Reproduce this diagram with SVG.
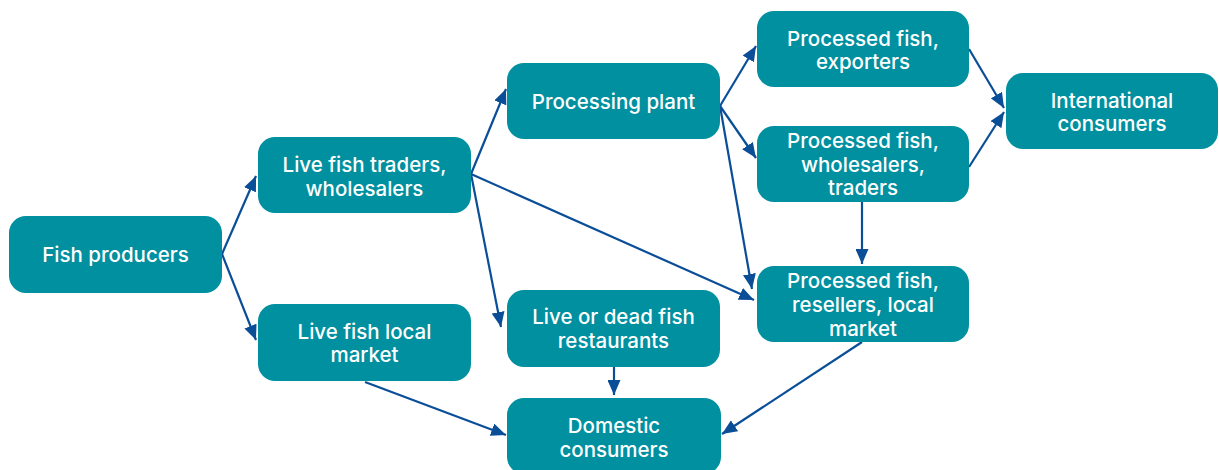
<svg xmlns="http://www.w3.org/2000/svg" width="1219" height="470" viewBox="0 0 1219 470">
<style>
.box{fill:#00909F;}
.lbl{fill:#FFFFFF;font-family:Inter,"Noto Sans","Liberation Sans",sans-serif;font-size:20.5px;font-weight:500;text-anchor:middle;}
.con{stroke:#0A4E98;stroke-width:2.2;fill:none;marker-end:url(#ah);}
</style>
<defs>
<marker id="ah" markerUnits="userSpaceOnUse" markerWidth="15" markerHeight="13" refX="15" refY="6.5" orient="auto">
<path d="M0,0 L15,6.5 L0,13 z" fill="#0A4E98"/>
</marker>
</defs>
<rect width="1219" height="470" fill="#FFFFFF"/>
<g id="connectors">
<line class="con" x1="222" y1="254" x2="256" y2="176"/>
<line class="con" x1="222" y1="254" x2="256" y2="340"/>
<line class="con" x1="471" y1="174" x2="506" y2="89"/>
<line class="con" x1="471" y1="174" x2="501" y2="327"/>
<line class="con" x1="471" y1="174" x2="754" y2="300"/>
<line class="con" x1="720" y1="106" x2="756" y2="46"/>
<line class="con" x1="720" y1="106" x2="756" y2="158"/>
<line class="con" x1="720" y1="106" x2="752" y2="289"/>
<line class="con" x1="862" y1="202" x2="862" y2="264"/>
<line class="con" x1="969" y1="49" x2="1004" y2="108"/>
<line class="con" x1="969" y1="167" x2="1004" y2="112"/>
<line class="con" x1="614" y1="367" x2="614" y2="395"/>
<line class="con" x1="365" y1="382" x2="506" y2="435"/>
<line class="con" x1="862" y1="342" x2="722" y2="434"/>
</g>
<g id="fish-producers">
<rect class="box" x="9" y="216" width="213" height="77" rx="17"/>
<text class="lbl" x="115.5" y="262">Fish producers</text>
</g>
<g id="live-fish-traders">
<rect class="box" x="258" y="137" width="213" height="76" rx="17"/>
<text class="lbl" x="364.5" y="172">Live fish traders,</text>
<text class="lbl" x="364.5" y="196">wholesalers</text>
</g>
<g id="live-fish-local-market">
<rect class="box" x="258" y="304" width="213" height="77" rx="17"/>
<text class="lbl" x="364.5" y="339">Live fish local</text>
<text class="lbl" x="364.5" y="362">market</text>
</g>
<g id="processing-plant">
<rect class="box" x="507" y="63" width="213" height="76" rx="17"/>
<text class="lbl" x="613.5" y="109">Processing plant</text>
</g>
<g id="live-or-dead-fish-restaurants">
<rect class="box" x="507" y="290" width="213" height="77" rx="17"/>
<text class="lbl" x="613.5" y="324">Live or dead fish</text>
<text class="lbl" x="613.5" y="348">restaurants</text>
</g>
<g id="domestic-consumers">
<rect class="box" x="507" y="398" width="214" height="76" rx="17"/>
<text class="lbl" x="614" y="433">Domestic</text>
<text class="lbl" x="614" y="457">consumers</text>
</g>
<g id="processed-fish-exporters">
<rect class="box" x="757" y="11" width="212" height="76" rx="17"/>
<text class="lbl" x="863" y="46">Processed fish,</text>
<text class="lbl" x="863" y="69">exporters</text>
</g>
<g id="processed-fish-wholesalers-traders">
<rect class="box" x="757" y="126" width="212" height="76" rx="17"/>
<text class="lbl" x="863" y="148">Processed fish,</text>
<text class="lbl" x="863" y="172">wholesalers,</text>
<text class="lbl" x="863" y="195">traders</text>
</g>
<g id="processed-fish-resellers-local-market">
<rect class="box" x="757" y="266" width="212" height="76" rx="17"/>
<text class="lbl" x="863" y="288">Processed fish,</text>
<text class="lbl" x="863" y="312">resellers, local</text>
<text class="lbl" x="863" y="336">market</text>
</g>
<g id="international-consumers">
<rect class="box" x="1006" y="73" width="212" height="76" rx="17"/>
<text class="lbl" x="1112" y="108">International</text>
<text class="lbl" x="1112" y="131">consumers</text>
</g>
</svg>
